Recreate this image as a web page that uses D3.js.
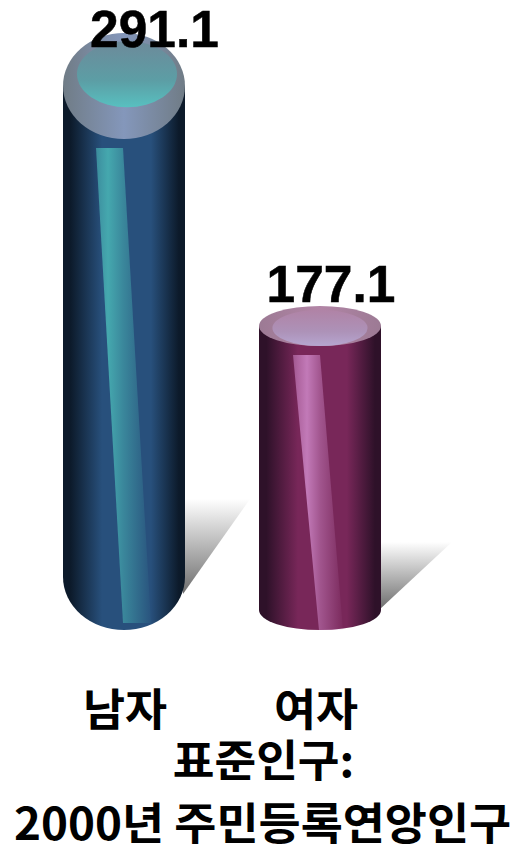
<!DOCTYPE html>
<html><head><meta charset="utf-8">
<script src="https://cdn.jsdelivr.net/npm/d3@7/dist/d3.min.js"></script>
<style>html,body{margin:0;padding:0;background:#fff;overflow:hidden}svg{display:block}</style>
</head><body><div id="c"></div>
<script>
const categories = ["남자", "여자"];
const values = [291.1, 177.1];
const valueLabels = ["291.1", "177.1"];
const footerLines = ["표준인구:", "2000년 주민등록연앙인구"];
const palettes = [
  {edge:"#0c1a2a", mid:"#28507c", rimEdge:"#707c86", rimMid:"#8497bb", innerTop:"#6d8a9a", innerMid:"#5c9ea5", innerBottom:"#58c0c0", streak:"#45a8ae"},
  {edge:"#2e1129", mid:"#782759", rimEdge:"#9c7a94", rimMid:"#b285a6", innerTop:"#b083a6", innerMid:"#ad92b8", innerBottom:"#b6a6d0", streak:"#c27ab8"}
];
const W = 512, H = 846, baseY = 630;
const svg = d3.select("#c").append("svg").attr("width", W).attr("height", H);
const defs = svg.append("defs");
const cx = d3.scalePoint().domain(categories).range([124, 320]);
const y = d3.scaleLinear().domain([177.1, 291.1]).range([326, 86]);
const ry = d3.scaleLinear().domain([177.1, 291.1]).range([20, 53]);
const rx = 61;

function lin(id, x1, y1, x2, y2, stops) {
  const g = defs.append("linearGradient").attr("id", id).attr("gradientUnits", "userSpaceOnUse")
    .attr("x1", x1).attr("y1", y1).attr("x2", x2).attr("y2", y2);
  stops.forEach(s => g.append("stop").attr("offset", s[0]).attr("stop-color", s[1]).attr("stop-opacity", s[2] === undefined ? 1 : s[2]));
}

categories.forEach((c, i) => {
  const v = values[i], p = palettes[i], X = cx(c), T = y(v), R = ry(v), B = baseY - R;
  const L = X - rx, Rt = X + rx;
  const g = svg.append("g");

  // floor shadow
  const sTop = B - (i === 0 ? 78 : 68), sTip = Rt + (i === 0 ? 65 : 71), sBot = B + (i === 0 ? 15 : -2);
  lin("sh" + i, 0, sTop, 0, sBot, [[0, "#fff"], [1, "#707070"]]);
  g.append("path").attr("d", `M${Rt - 2},${sTop}L${sTip},${sTop}L${Rt - 2},${sBot + 2}Z`).attr("fill", `url(#sh${i})`);

  // body
  lin("bd" + i, L, 0, Rt, 0, [[0, p.edge], [0.06, p.edge], [0.32, p.mid], [0.72, p.mid], [0.95, p.edge], [1, p.edge]]);
  g.append("path")
    .attr("d", `M${L},${T}L${L},${B}A${rx},${R} 0 0 0 ${Rt},${B}L${Rt},${T}Z`)
    .attr("fill", `url(#bd${i})`);

  // streak
  const sy0 = T + R + 9, sy1 = baseY - (i === 0 ? 7 : 0);
  const xa = X - 28 + (i === 0 ? 0 : 1), xb = X - 1 + (i === 0 ? 0 : 1), xc = X + (i === 0 ? 27 : 23), xd = X - 1;
  const st = i === 0
    ? [[0, p.streak, 0.7], [0.22, p.streak, 1], [0.5, p.streak, 0.62], [1, p.streak, 0.04]]
    : [[0, p.streak, 0.6], [0.28, p.streak, 1], [0.55, p.streak, 0.55], [1, p.streak, 0.04]];
  lin("st" + i, xa, 0, xc, 0, st);
  g.append("path").attr("d", `M${xa},${sy0}L${xb},${sy0}L${xc},${sy1}L${xd},${sy1}Z`).attr("fill", `url(#st${i})`);

  // top rim
  lin("rm" + i, L, 0, Rt, 0, [[0, p.rimEdge], [0.5, p.rimMid], [1, p.rimEdge]]);
  g.append("ellipse").attr("cx", X).attr("cy", T).attr("rx", rx).attr("ry", R).attr("fill", `url(#rm${i})`);
  const iT = T - R + R * (i === 0 ? 0.15 : 0.2), iB = T + R * (i === 0 ? 0.4 : 1), iRx = rx * (i === 0 ? 0.82 : 0.78);
  lin("in" + i, 0, iT, 0, iB, [[0, p.innerTop], [0.6, p.innerMid], [1, p.innerBottom]]);
  g.append("ellipse").attr("cx", X + (i === 0 ? 3 : 0)).attr("cy", (iT + iB) / 2).attr("rx", iRx).attr("ry", (iB - iT) / 2).attr("fill", `url(#in${i})`);
});

// value labels
svg.selectAll("text.val").data(values).join("text").attr("class", "val")
  .attr("x", (d, i) => cx(categories[i]) + (i === 0 ? 30.5 : 11))
  .attr("y", (d, i) => i === 0 ? 47 : 302)
  .attr("text-anchor", "middle")
  .style("font", "bold 51.5px 'Liberation Sans'").attr("fill", "#000")
  .attr("stroke", "#000").attr("stroke-width", 0.5)
  .text((d, i) => valueLabels[i]);

const kr = "'Noto Sans CJK KR'";
function cond(tx, ty, size, sx, s) {
  svg.append("text").attr("transform", `translate(${tx},${ty}) scale(${sx},1)`)
    .attr("text-anchor", "middle").style("font", `bold ${size}px ${kr}`).attr("fill", "#000").text(s);
}
categories.forEach((c, i) => cond(i === 0 ? 125 : 316, 726, 44, 1.04, c));
cond(263.5, 777, 44, 1.03, footerLines[0]);
cond(262.5, 840, 44, 1.04, footerLines[1]);
</script></body></html>
